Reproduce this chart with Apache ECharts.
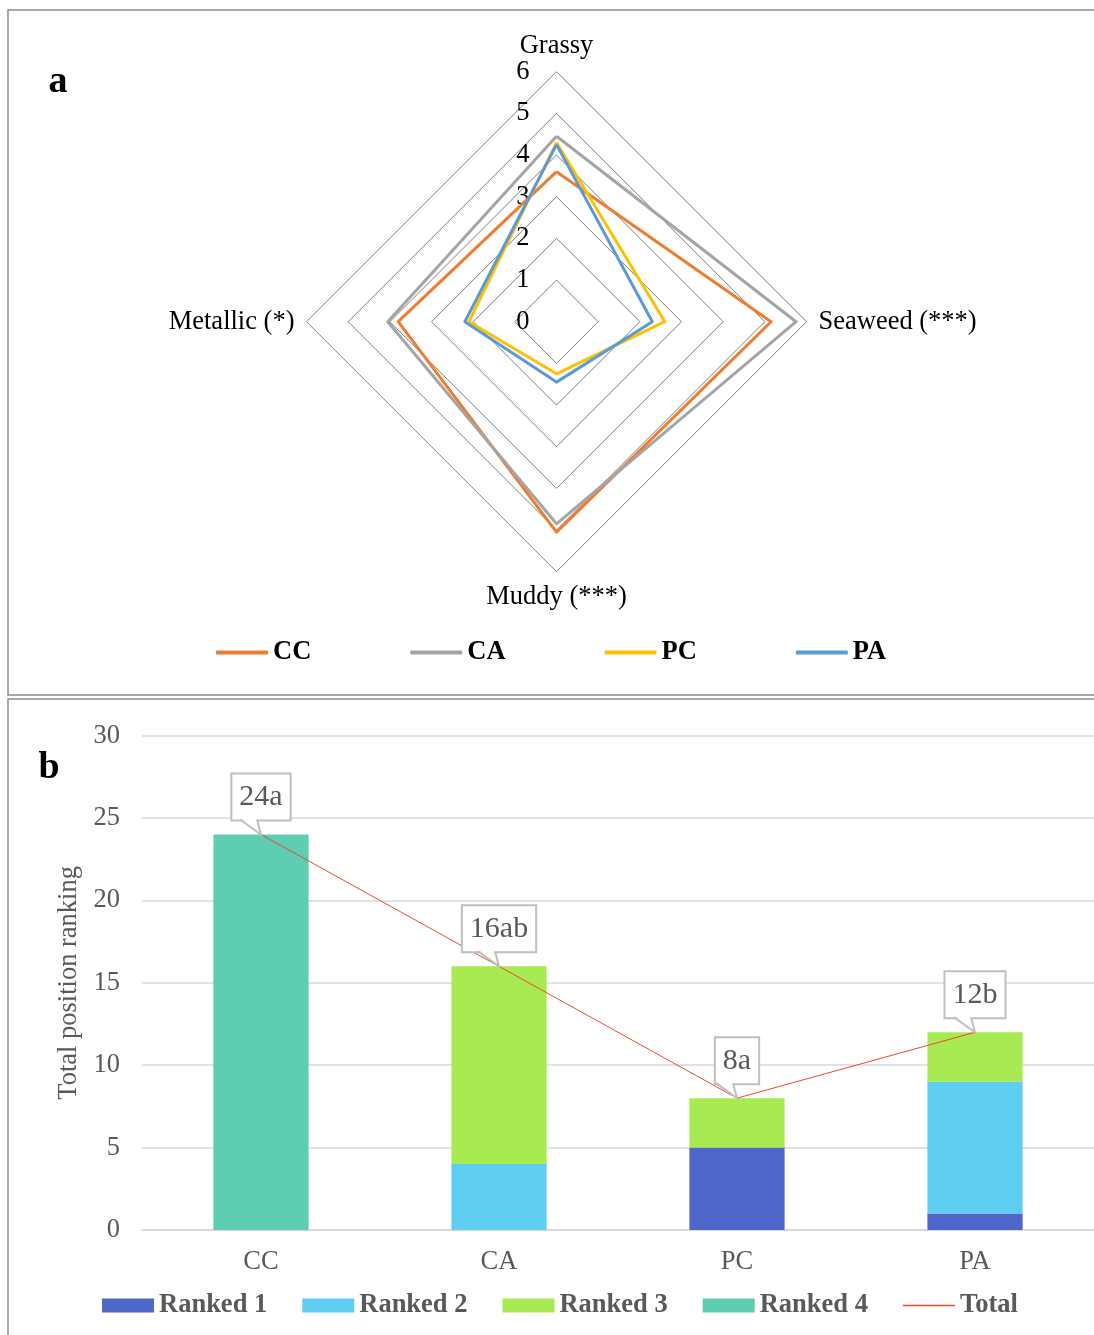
<!DOCTYPE html>
<html>
<head>
<meta charset="utf-8">
<script src="https://cdn.jsdelivr.net/npm/echarts@6/dist/echarts.min.js"></script>
<style>
html,body{margin:0;padding:0;background:#fff;}
#chart{width:1094px;height:1335px;}
</style>
</head>
<body>
<div id="chart"></div>
<script>
// ---- Panel a: radar data (order: Grassy, Metallic, Muddy, Seaweed) ----
const radarIndicators = ['Grassy', 'Metallic (*)', 'Muddy (***)', 'Seaweed (***)'];
const radarMax = 6;
const groups = ['CC', 'CA', 'PC', 'PA'];
const ccScores = [3.6, 3.8, 5.05, 5.15];
const caScores = [4.45, 4.05, 4.85, 5.75];
const pcScores = [4.3, 2.1, 1.25, 2.6];
const paScores = [4.25, 2.2, 1.45, 2.3];
const groupColors = ['#ED7D31', '#A5A5A5', '#FFC000', '#5B9BD5'];

// ---- Panel b: stacked bar data ----
const categories = ['CC', 'CA', 'PC', 'PA'];
const ranked1 = [0, 0, 5, 1];
const ranked2 = [0, 4, 0, 8];
const ranked3 = [0, 12, 3, 3];
const ranked4 = [24, 0, 0, 0];
const totals = [24, 16, 8, 12];
const totalLabels = ['24a', '16ab', '8a', '12b'];

const FONT = '"Liberation Serif", "Times New Roman", serif';
const FS = 26.5;
const chart = echarts.init(document.getElementById('chart'));

const radarScores = [ccScores, caScores, pcScores, paScores];

const option = {
  animation: false,
  backgroundColor: '#fff',
  textStyle: { fontFamily: FONT },
  graphic: [
    { type: 'rect', shape: { x: 8, y: 10, width: 1100, height: 685 }, style: { fill: 'none', stroke: '#8C8C8C', lineWidth: 1.5 }, silent: true },
    { type: 'rect', shape: { x: 8, y: 699, width: 1100, height: 660 }, style: { fill: 'none', stroke: '#8C8C8C', lineWidth: 1.5 }, silent: true },
    { type: 'text', x: 58, y: 82, style: { text: 'a', font: 'bold 38px ' + FONT, fill: '#000', align: 'center', verticalAlign: 'middle' } },
    { type: 'text', x: 49, y: 768, style: { text: 'b', font: 'bold 38px ' + FONT, fill: '#000', align: 'center', verticalAlign: 'middle' } }
  ],
  radar: {
    center: [556.5, 321.7],
    radius: 250,
    shape: 'polygon',
    splitNumber: 6,
    startAngle: 90,
    indicator: radarIndicators.map(n => ({ name: n, min: 0, max: radarMax })),
    nameGap: 12,
    axisName: { color: '#000', fontSize: FS, fontFamily: FONT },
    axisLine: { show: false },
    axisTick: { show: false },
    axisLabel: { show: false },
    splitArea: { show: false },
    splitLine: { lineStyle: { color: '#7F7F7F', width: 1 } }
  },
  legend: [
    {
      data: groups,
      left: 211, top: 634,
      itemWidth: 52, itemHeight: 4,
      icon: 'roundRect',
      itemGap: 99,
      selectedMode: false,
      textStyle: { fontFamily: FONT, fontSize: FS, fontWeight: 'bold', color: '#000' }
    },
    {
      data: [
        { name: 'Ranked 1', icon: 'rect' },
        { name: 'Ranked 2', icon: 'rect' },
        { name: 'Ranked 3', icon: 'rect' },
        { name: 'Ranked 4', icon: 'rect' },
        { name: 'Total', icon: 'path://M0,0L52,0L52,1.4L0,1.4Z' }],
      left: 97, top: 1287,
      itemWidth: 52, itemHeight: 14,
      itemGap: 35,
      selectedMode: false,
      textStyle: { fontFamily: FONT, fontSize: FS, fontWeight: 'bold', color: '#595959' }
    }
  ],
  grid: [
    { left: 142, right: 0, top: 735.7, height: 494.3 },
    { left: 556.5, width: 1, top: 71.7, height: 250 }
  ],
  xAxis: [
    {
      type: 'category', gridIndex: 0, data: categories,
      axisLine: { lineStyle: { color: '#D9D9D9', width: 2 } },
      axisTick: { show: false },
      axisLabel: { margin: 19, fontSize: FS, color: '#595959', fontFamily: FONT }
    },
    { type: 'value', gridIndex: 1, show: false }
  ],
  yAxis: [
    {
      type: 'value', gridIndex: 0, min: 0, max: 30, interval: 5,
      name: 'Total position ranking', nameLocation: 'middle', nameGap: 58,
      nameTextStyle: { fontSize: FS, color: '#595959', fontFamily: FONT },
      axisLine: { show: false }, axisTick: { show: false },
      axisLabel: { margin: 22, fontSize: FS, color: '#595959', fontFamily: FONT },
      splitLine: { lineStyle: { color: '#D9D9D9', width: 1.5 } }
    },
    {
      type: 'value', gridIndex: 1, min: 0, max: radarMax, interval: 1,
      axisLine: { show: false }, axisTick: { show: false }, splitLine: { show: false },
      axisLabel: { margin: 27, fontSize: FS, color: '#000', fontFamily: FONT, padding: [4, 0, 0, 0] }
    }
  ],
  series: [
    {
      type: 'radar',
      symbol: 'none',
      data: groups.map((g, i) => ({
        name: g,
        value: radarScores[i],
        itemStyle: { color: groupColors[i] },
        lineStyle: { color: groupColors[i], width: 3 }
      })),
      z: 3
    },
    { name: 'Ranked 1', type: 'bar', stack: 'r', barWidth: '40%', data: ranked1, itemStyle: { color: '#4E67C8' } },
    { name: 'Ranked 2', type: 'bar', stack: 'r', data: ranked2, itemStyle: { color: '#5DCDF2' } },
    { name: 'Ranked 3', type: 'bar', stack: 'r', data: ranked3, itemStyle: { color: '#A7EA52' } },
    { name: 'Ranked 4', type: 'bar', stack: 'r', data: ranked4, itemStyle: { color: '#5DCEB1' } },
    {
      name: 'Total', type: 'line', data: totals, symbol: 'none', z: 5,
      lineStyle: { color: '#F0462E', width: 1 }, itemStyle: { color: '#F0462E' }
    },
    {
      name: 'callouts', type: 'custom', xAxisIndex: 0, yAxisIndex: 0, z: 6,
      data: totals.map((t, i) => [i, t]),
      encode: { x: 0, y: 1 },
      renderItem: function (params, api) {
        const p = api.coord([api.value(0), api.value(1)]);
        const px = p[0], py = p[1];
        const bb = py - 15;
        return {
          type: 'group',
          children: [
            {
              type: 'text', x: px, y: bb,
              style: {
                text: totalLabels[params.dataIndex],
                font: '30px ' + FONT, fill: '#595959',
                align: 'center', verticalAlign: 'bottom',
                lineHeight: 30,
                backgroundColor: '#fff', borderColor: '#BFBFBF', borderWidth: 2,
                padding: [8, 7, 7, 7]
              }
            },
            { type: 'polygon', shape: { points: [[px - 21, bb - 2], [px - 4, bb - 2], [px, py]] }, style: { fill: '#fff' } },
            { type: 'polyline', shape: { points: [[px - 21, bb], [px, py], [px - 4, bb]] }, style: { stroke: '#BFBFBF', lineWidth: 2, fill: null } }
          ]
        };
      }
    }
  ]
};
chart.setOption(option);
</script>
</body>
</html>
